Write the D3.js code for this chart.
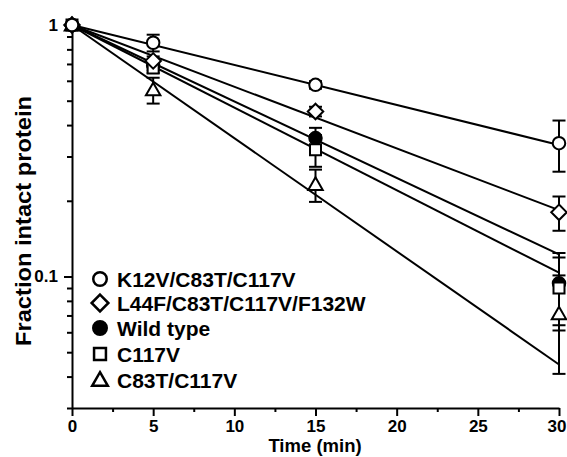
<!DOCTYPE html>
<html><head><meta charset="utf-8">
<script src="https://cdn.jsdelivr.net/npm/d3@7"></script>
<style>body{margin:0;background:#fff}svg{display:block}</style>
</head><body><script>
// ---- data ----
const times = [0, 5, 15, 30];
const seriesNames = ["K12V/C83T/C117V", "L44F/C83T/C117V/F132W", "Wild type", "C117V", "C83T/C117V"];
const seriesShapes = ["circle", "diamond", "filledCircle", "square", "triangle"];
const k12vValues = [1.0, 0.85, 0.578, 0.339];
const k12vErrors = [0, 0.065, 0.02, 0.078];
const l44fValues = [1.0, 0.72, 0.453, 0.18];
const l44fErrors = [0, 0.03, 0.02, 0.028];
const wildTypeValues = [1.0, 0.69, 0.355, 0.094];
const wildTypeErrors = [0, 0.03, 0.035, 0.03];
const c117vValues = [1.0, 0.675, 0.319, 0.090];
const c117vErrors = [0, 0.03, 0.046, 0.029];
const c83tValues = [1.0, 0.552, 0.232, 0.071];
const c83tErrors = [0, 0.065, 0.034, 0.030];
// first-order decay fits: fraction = exp(-k t)
const fitRates = [0.0366, 0.0565, 0.070, 0.0756, 0.1036];
const xTicks = [0, 5, 10, 15, 20, 25, 30];
const xMinorTicks = [2.5, 7.5, 12.5, 17.5, 22.5, 27.5];
const yTicks = [1, 0.1];
const yMinorTicks = [0.9,0.8,0.7,0.6,0.5,0.4,0.3,0.2,0.09,0.08,0.07,0.06,0.05,0.04,0.03];

const allValues = [k12vValues, l44fValues, wildTypeValues, c117vValues, c83tValues];
const allErrors = [k12vErrors, l44fErrors, wildTypeErrors, c117vErrors, c83tErrors];
const drawOrder = [4, 2, 3, 1, 0];

const W = 567, H = 457;
const FONT = "'Liberation Sans', Arial, Helvetica, sans-serif";
const svg = d3.select("body").append("svg").attr("width", W).attr("height", H);

const x = d3.scaleLinear().domain([0, 30]).range([72, 559]);
const y = d3.scaleLog().domain([0.03, 1]).range([408, 25]);

function shapePath(shape, s) {
  if (shape === "circle" || shape === "filledCircle") {
    const r = s * 0.5;
    return `M${r},0A${r},${r} 0 1,1 ${-r},0A${r},${r} 0 1,1 ${r},0Z`;
  }
  if (shape === "diamond") { const h = s * 0.62; return `M0,${-h}L${h},0L0,${h}L${-h},0Z`; }
  if (shape === "square") { const h = s * 0.44; return `M${-h},${-h}H${h}V${h}H${-h}Z`; }
  if (shape === "triangle") { const h = s * 0.58; return `M0,${-h}L${h},${h*0.75}L${-h},${h*0.75}Z`; }
}

// axes
const gx = svg.append("g").attr("transform", `translate(0,408)`);
gx.call(d3.axisBottom(x).tickValues(xTicks).tickSize(8).tickSizeOuter(0).tickPadding(4).tickFormat(d3.format("d")));
const gxm = svg.append("g").attr("transform", `translate(0,408)`);
gxm.call(d3.axisBottom(x).tickValues(xMinorTicks).tickSize(4).tickSizeOuter(0).tickFormat(""));
gxm.select(".domain").remove();

const gy = svg.append("g").attr("transform", `translate(72,0)`);
gy.call(d3.axisLeft(y).tickValues(yTicks).tickSize(8).tickSizeOuter(0).tickPadding(6).tickFormat(d => d === 1 ? "1" : "0.1"));
const gym = svg.append("g").attr("transform", `translate(72,0)`);
gym.call(d3.axisLeft(y).tickValues(yMinorTicks).tickSize(5).tickSizeOuter(0).tickFormat(""));
gym.select(".domain").remove();

svg.selectAll(".domain, .tick line").attr("stroke", "#000").attr("stroke-width", 2);
svg.selectAll(".tick text").attr("font-family", FONT).attr("font-size", 17).attr("font-weight", "bold").attr("fill", "#000");
// keep the last x label inside the frame
gx.selectAll(".tick text").filter(d => d === 30).attr("text-anchor", "end").attr("x", 7);

// axis titles
svg.append("text").attr("x", 315).attr("y", 452).attr("text-anchor", "middle")
  .attr("font-family", FONT).attr("font-size", 18.5).attr("font-weight", "bold").text("Time (min)");
svg.append("text").attr("transform", `translate(31,221) rotate(-90)`).attr("text-anchor", "middle")
  .attr("font-family", FONT).attr("font-size", 22).attr("font-weight", "bold")
  .attr("textLength", 250).attr("lengthAdjust", "spacingAndGlyphs").text("Fraction intact protein");

// fit lines
const fitT = [0, 30];
const line = d3.line().x(d => x(d[0])).y(d => y(d[1]));
fitRates.forEach(k => {
  svg.append("path").attr("d", line(fitT.map(t => [t, Math.exp(-k * t)])))
    .attr("fill", "none").attr("stroke", "#000").attr("stroke-width", 2);
});

// error bars
const capW = 6.5;
allValues.forEach((vals, si) => {
  vals.forEach((v, i) => {
    const e = allErrors[si][i];
    if (!e) return;
    const cx = x(times[i]), y1 = y(v + e), y2 = y(Math.max(v - e, 0.031));
    const g = svg.append("g").attr("stroke", "#000").attr("stroke-width", 2);
    g.append("line").attr("x1", cx).attr("x2", cx).attr("y1", y1).attr("y2", y2);
    g.append("line").attr("x1", cx - capW).attr("x2", cx + capW).attr("y1", y1).attr("y2", y1);
    g.append("line").attr("x1", cx - capW).attr("x2", cx + capW).attr("y1", y2).attr("y2", y2);
  });
});

// markers
drawOrder.forEach(si => {
  const shape = seriesShapes[si];
  allValues[si].forEach((v, i) => {
    svg.append("path").attr("d", shapePath(shape, 12.5))
      .attr("transform", `translate(${x(times[i])},${y(v)})`)
      .attr("fill", shape === "filledCircle" ? "#000" : "#fff")
      .attr("stroke", "#000").attr("stroke-width", 2);
  });
});

// legend
const legRows = [279, 303, 328, 354, 380];
seriesNames.forEach((name, i) => {
  const shape = seriesShapes[i];
  svg.append("path").attr("d", shapePath(shape, 13.5))
    .attr("transform", `translate(100,${legRows[i]})`)
    .attr("fill", shape === "filledCircle" ? "#000" : "#fff")
    .attr("stroke", "#000").attr("stroke-width", 2.5);
  svg.append("text").attr("x", 117).attr("y", legRows[i] + 7.5)
    .attr("font-family", FONT).attr("font-size", 21).attr("font-weight", "bold").text(name);
});
</script></body></html>
